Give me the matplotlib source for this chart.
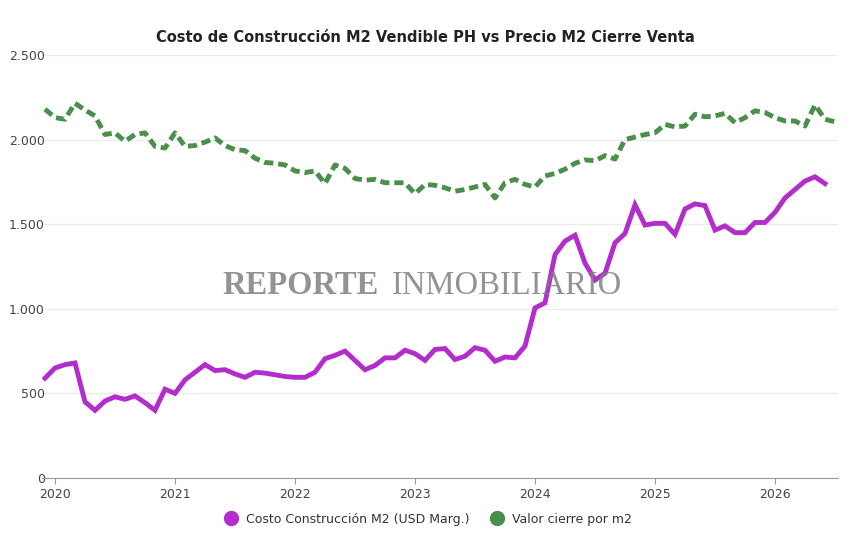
import matplotlib
matplotlib.use("Agg")
import matplotlib.pyplot as plt
import numpy as np

years = ["2020", "2021", "2022", "2023", "2024", "2025", "2026"]
costo = [590, 650, 670, 680, 450, 400, 455, 480, 465, 485, 445, 400, 525, 500, 580, 625, 670, 635, 640, 615,
         595, 625, 620, 610, 600, 595, 595, 625, 705, 725, 750, 695, 640, 665, 710, 710, 755, 735, 695, 760,
         765, 700, 720, 770, 755, 690, 715, 710, 780, 1005, 1035, 1320, 1400, 1435, 1270, 1170, 1210, 1390, 1445, 1615,
         1495, 1505, 1505, 1440, 1590, 1620, 1610, 1465, 1490, 1450, 1450, 1510, 1510, 1570, 1655, 1705, 1755, 1780, 1740, np.nan]
valor = [2180, 2130, 2120, 2215, 2175, 2140, 2030, 2040, 1990, 2030, 2040, 1960, 1950, 2040, 1960, 1965, 1985, 2010, 1965, 1940,
         1935, 1890, 1865, 1860, 1850, 1815, 1805, 1815, 1740, 1850, 1830, 1770, 1760, 1765, 1745, 1745, 1745, 1680, 1735, 1730,
         1715, 1695, 1705, 1720, 1735, 1655, 1745, 1765, 1735, 1720, 1785, 1800, 1825, 1860, 1880, 1875, 1905, 1885, 2000, 2015,
         2030, 2040, 2090, 2075, 2080, 2150, 2135, 2140, 2155, 2100, 2130, 2170, 2160, 2130, 2110, 2110, 2080, 2205, 2120, 2105]
months = np.arange(-1, len(valor) - 1)

fig = plt.figure(figsize=(8.5, 5.5), dpi=100)
ax = fig.add_axes([42/850, 1-478/550, 796/850, 423/550])
ax.plot(months, costo, color="#b32ccc", lw=3.5, solid_joinstyle="miter", label="Costo Construcción M2 (USD Marg.)")
ax.plot(months, valor, color="#4a8f4a", lw=3.5, ls=(0, (1.9, 1.0)), label="Valor cierre por m2")

ax.set_xlim(-1.3, 78.3)
ax.set_ylim(0, 2500)
ax.set_xticks(np.arange(len(years)) * 12)
ax.set_xticklabels(years)
yt = np.arange(0, 2501, 500)
ax.set_yticks(yt)
ax.set_yticklabels([f"{v:,}".replace(",", ".") for v in yt])
ax.grid(axis="y", color="#ebebeb", lw=1)
ax.set_axisbelow(True)
for s in ["top", "right", "left"]:
    ax.spines[s].set_visible(False)
ax.spines["bottom"].set_color("#999999")
ax.tick_params(axis="y", length=0, labelsize=9, colors="#444444", pad=-2)
ax.tick_params(axis="x", length=4, labelsize=9, colors="#444444", color="#999999")

fig.text(0.5, 1-37/550, "Costo de Construcción M2 Vendible PH vs Precio M2 Cierre Venta",
         ha="center", va="center", fontsize=10.5, fontweight="bold", color="#222222")
fig.text(222/850, 1-286/550, "REPORTE", fontfamily="Liberation Serif", fontweight="bold",
         fontsize=23.5, color="#808080", alpha=0.85, ha="left", va="center")
fig.text(392/850, 1-286/550, "INMOBILIARIO", fontfamily="Liberation Serif",
         fontsize=23.5, color="#808080", alpha=0.85, ha="left", va="center")

h1 = plt.Line2D([], [], marker="o", color="none", markerfacecolor="#b32ccc", markeredgecolor="#b32ccc", markersize=10)
h2 = plt.Line2D([], [], marker="o", color="none", markerfacecolor="#4a8f4a", markeredgecolor="#4a8f4a", markersize=10)
fig.legend([h1, h2], ["Costo Construcción M2 (USD Marg.)", "Valor cierre por m2"], loc="center",
           bbox_to_anchor=(0.5, 1-519/550), ncol=2, frameon=False, fontsize=9,
           handletextpad=0.2, columnspacing=1.2, labelcolor="#333333")
fig.savefig("out.png", dpi=100)
